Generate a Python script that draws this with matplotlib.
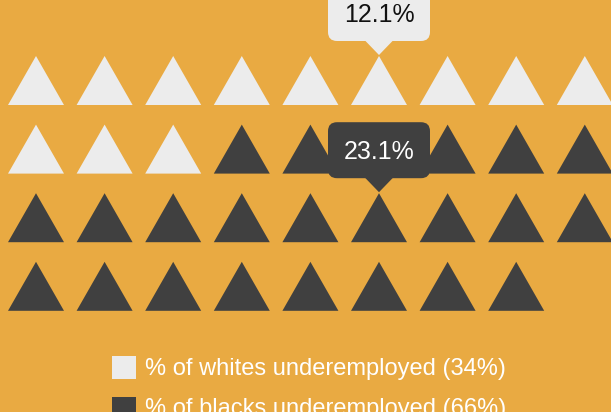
import matplotlib
matplotlib.use("Agg")
import matplotlib.pyplot as plt
from matplotlib.patches import Polygon, FancyBboxPatch, Rectangle

# ---------------------------------------------------------------------------
# Data
# ---------------------------------------------------------------------------
groups = ["whites", "blacks"]
counts = [12, 23]                 # number of triangles per group
shares = [34, 66]                 # legend percentages
callout_values = [12.1, 23.1]     # labels shown in the callouts
colors = ["#ECECEC", "#404040"]
text_colors = ["#111111", "#FFFFFF"]
legend_labels = [f"% of {g} underemployed ({s}%)" for g, s in zip(groups, shares)]

BG = "#E9AA42"
W, H = 611, 412
PER_ROW = 9
CELL = 68.6
X0 = 36.0          # centre x of first column
Y0 = 56.0          # apex y of first row
TRI_W = 56.0
TRI_H = 49.0

plt.rcParams["font.family"] = ["Liberation Sans", "DejaVu Sans"]

fig = plt.figure(figsize=(W / 100, H / 100), dpi=100, facecolor=BG)
ax = fig.add_axes([0, 0, 1, 1], facecolor=BG)
ax.set_xlim(0, W)
ax.set_ylim(H, 0)
ax.axis("off")


def cell_pos(i):
    row, col = divmod(i, PER_ROW)
    return X0 + col * CELL, Y0 + row * CELL


# triangles
idx = 0
group_cells = []
for g, n in enumerate(counts):
    cells = []
    for _ in range(n):
        cx, top = cell_pos(idx)
        tri = Polygon([(cx - TRI_W / 2, top + TRI_H), (cx + TRI_W / 2, top + TRI_H), (cx, top)],
                      closed=True, facecolor=colors[g], edgecolor="none", zorder=2)
        ax.add_patch(tri)
        cells.append((cx, top))
        idx += 1
    group_cells.append(cells)

# callouts on the middle item of each group
BOX_W, BOX_H, PTR_H, PTR_W = 102, 56, 14, 28
for g, cells in enumerate(group_cells):
    cx, top = cells[(counts[g] - 1) // 2]
    tip = top - 1
    box_bottom = tip - PTR_H
    box_top = box_bottom - BOX_H
    box = FancyBboxPatch((cx - BOX_W / 2, box_top), BOX_W, BOX_H,
                         boxstyle="round,pad=0,rounding_size=9",
                         facecolor=colors[g], edgecolor="none", zorder=5)
    ax.add_patch(box)
    ptr = Polygon([(cx - PTR_W / 2, box_bottom - 0.5), (cx + PTR_W / 2, box_bottom - 0.5), (cx, tip)],
                  closed=True, facecolor=colors[g], edgecolor="none", zorder=5)
    ax.add_patch(ptr)
    ax.text(cx, (box_top + box_bottom) / 2 + 2, f"{callout_values[g]}%", ha="center", va="center",
            fontsize=18, color=text_colors[g], zorder=6)

# legend
for g, label in enumerate(legend_labels):
    y = 367.5 + g * 40.5
    ax.add_patch(Rectangle((112, y - 11.5), 24, 23, facecolor=colors[g], edgecolor="none"))
    ax.text(145, y + 1.5, label, ha="left", va="center", fontsize=17, color="white")

fig.savefig("out.png", dpi=100, facecolor=BG)
